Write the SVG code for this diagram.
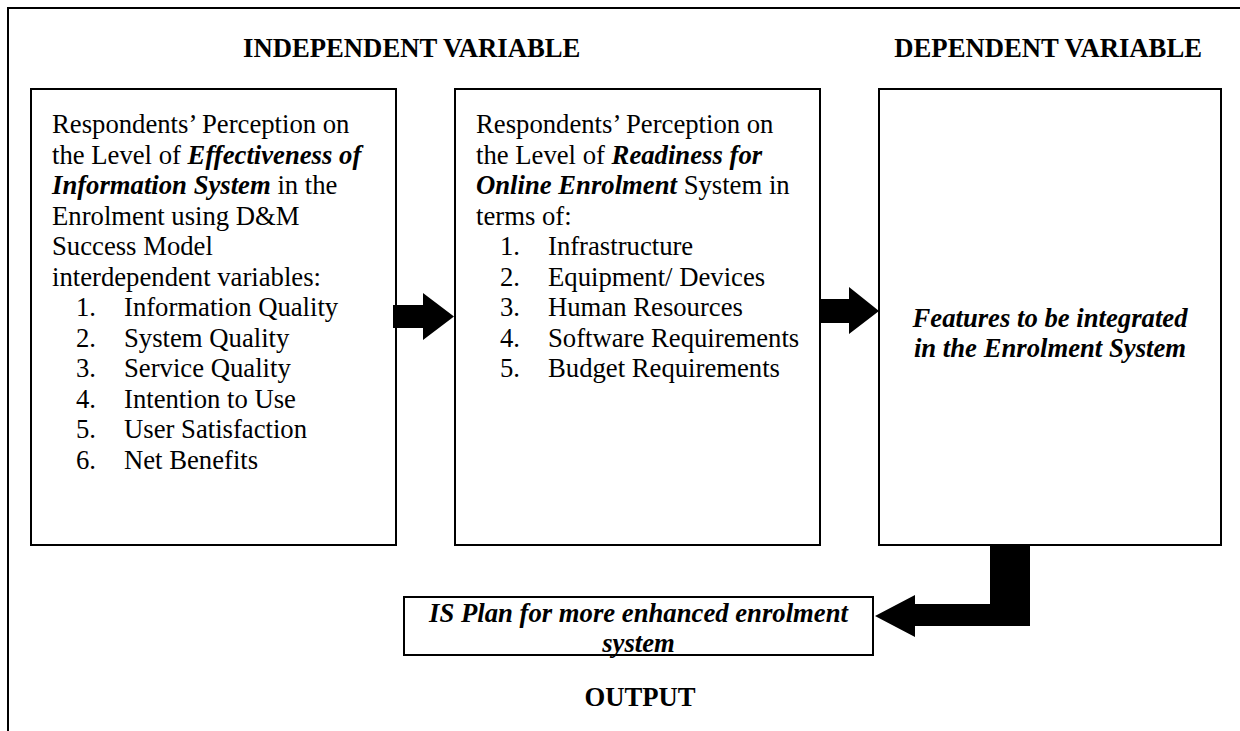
<svg xmlns="http://www.w3.org/2000/svg" width="1240" height="731" viewBox="0 0 1240 731">
<style>
text{font-family:"Liberation Serif","Times New Roman",serif;font-size:26.7px;fill:#000}
.h{font-weight:bold}
.bi{font-weight:bold;font-style:italic}
.box{fill:#fff;stroke:#000;stroke-width:2}
.arr{fill:#000;stroke:none}
</style>
<rect width="1240" height="731" fill="#fff"/>
<path d="M8,731 V8 H1240" fill="none" stroke="#000" stroke-width="2"/>
<g id="headings">
<text class="h" x="243" y="57">INDEPENDENT VARIABLE</text>
<text class="h" x="1202" y="57" text-anchor="end">DEPENDENT VARIABLE</text>
<text class="h" x="640" y="706" text-anchor="middle">OUTPUT</text>
</g>
<g id="node-effectiveness">
<rect class="box" x="31" y="89" width="365" height="456"/>
<text x="52" y="133">Respondents’ Perception on</text>
<text x="52" y="163.5">the Level of <tspan class="bi">Effectiveness of</tspan></text>
<text x="52" y="194"><tspan class="bi">Information System</tspan> in the</text>
<text x="52" y="224.5">Enrolment using D&amp;M</text>
<text x="52" y="255">Success Model</text>
<text x="52" y="285.5">interdependent variables:</text>
<text x="76" y="316">1.</text><text x="124" y="316">Information Quality</text>
<text x="76" y="346.5">2.</text><text x="124" y="346.5">System Quality</text>
<text x="76" y="377">3.</text><text x="124" y="377">Service Quality</text>
<text x="76" y="407.5">4.</text><text x="124" y="407.5">Intention to Use</text>
<text x="76" y="438">5.</text><text x="124" y="438">User Satisfaction</text>
<text x="76" y="468.5">6.</text><text x="124" y="468.5">Net Benefits</text>
</g>
<g id="node-readiness">
<rect class="box" x="455" y="89" width="365" height="456"/>
<text x="476" y="133">Respondents’ Perception on</text>
<text x="476" y="163.5">the Level of <tspan class="bi">Readiness for</tspan></text>
<text x="476" y="194"><tspan class="bi">Online Enrolment</tspan> System in</text>
<text x="476" y="224.5">terms of:</text>
<text x="500" y="255">1.</text><text x="548" y="255">Infrastructure</text>
<text x="500" y="285.5">2.</text><text x="548" y="285.5">Equipment/ Devices</text>
<text x="500" y="316">3.</text><text x="548" y="316">Human Resources</text>
<text x="500" y="346.5">4.</text><text x="548" y="346.5">Software Requirements</text>
<text x="500" y="377">5.</text><text x="548" y="377">Budget Requirements</text>
</g>
<g id="node-features">
<rect class="box" x="879" y="89" width="342" height="456"/>
<text class="bi" x="1050" y="327" text-anchor="middle">Features to be integrated</text>
<text class="bi" x="1050" y="357" text-anchor="middle">in the Enrolment System</text>
</g>
<g id="node-isplan">
<rect class="box" x="404" y="597" width="469" height="58"/>
<text class="bi" x="638.5" y="622" text-anchor="middle">IS Plan for more enhanced enrolment</text>
<text class="bi" x="638.5" y="652" text-anchor="middle">system</text>
</g>
<g id="connectors">
<polygon class="arr" points="393,305 423,305 423,293 454,316.5 423,340 423,328 393,328"/>
<polygon class="arr" points="820,299 849,299 849,287 879,311 849,334 849,323 820,323"/>
<polygon class="arr" points="990,545 1030,545 1030,626 915,626 915,637 875,616 915,595 915,604 990,604"/>
</g>
</svg>
